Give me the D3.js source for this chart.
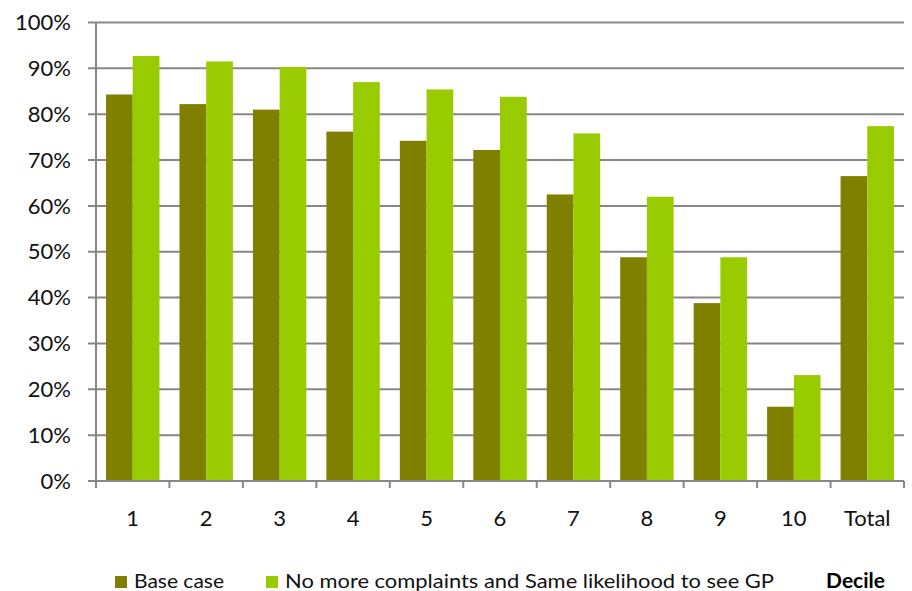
<!DOCTYPE html>
<html><head><meta charset="utf-8">
<script src="https://cdn.jsdelivr.net/npm/d3@7"></script>
<style>body{margin:0;background:#fff}svg{display:block}</style>
</head><body>
<svg id="c" width="912" height="591"></svg>
<script>
const categories = ["1","2","3","4","5","6","7","8","9","10","Total"];
const baseCase = [84.3, 82.2, 81.0, 76.2, 74.2, 72.2, 62.5, 48.8, 38.8, 16.2, 66.5];
const noComplaints = [92.7, 91.5, 90.3, 87.0, 85.4, 83.8, 75.8, 62.0, 48.8, 23.1, 77.4];
const seriesNames = ["Base case", "No more complaints and Same likelihood to see GP"];
const yTicks = [0,10,20,30,40,50,60,70,80,90,100];
const axisTitle = "Decile";

const colors = ["#808000", "#99cc00"];
const font = "Lato, 'Open Sans', sans-serif";
const svg = d3.select("#c");
const m = {l: 96, r: 904, t: 22.5, b: 481};
const x = d3.scaleBand().domain(categories).range([m.l, m.r]).paddingInner(0).paddingOuter(0);
const xs = d3.scaleBand().domain([0,1]).range([0, x.bandwidth()]).paddingInner(0).paddingOuter(0.375);
const y = d3.scaleLinear().domain([0,100]).range([m.b, m.t]);

// gridlines
svg.append("g").selectAll("line").data(yTicks).join("line")
  .attr("x1", m.l - 8).attr("x2", m.r)
  .attr("y1", d => y(d)).attr("y2", d => y(d))
  .attr("stroke", "#878787").attr("stroke-width", 2);

// bars
const series = [baseCase, noComplaints];
series.forEach((vals, si) => {
  svg.append("g").selectAll("rect").data(vals).join("rect")
    .attr("x", (d,i) => x(categories[i]) + xs(si))
    .attr("width", xs.bandwidth())
    .attr("y", d => y(d))
    .attr("height", d => y(0) - y(d))
    .attr("fill", colors[si]);
});

// y axis line
svg.append("line").attr("x1", m.l).attr("x2", m.l).attr("y1", y(100)).attr("y2", m.b + 7)
  .attr("stroke", "#878787").attr("stroke-width", 2);
// x axis
svg.append("line").attr("x1", m.l).attr("x2", m.r).attr("y1", y(0)).attr("y2", y(0))
  .attr("stroke", "#878787").attr("stroke-width", 2);
const bounds = categories.map(c => x(c)).concat([m.r]);
svg.append("g").selectAll("line").data(bounds).join("line")
  .attr("x1", d => d).attr("x2", d => d).attr("y1", y(0)).attr("y2", y(0) + 7)
  .attr("stroke", "#878787").attr("stroke-width", 2);

// y labels
svg.append("g").selectAll("text").data(yTicks).join("text")
  .attr("x", 71).attr("y", d => y(d)).attr("dy", "0.35em")
  .attr("text-anchor", "end").attr("font-family", font).attr("font-size", 22)
  .attr("fill", "#111").text(d => d + "%");

// x labels
svg.append("g").selectAll("text").data(categories).join("text")
  .attr("x", d => x(d) + x.bandwidth()/2).attr("y", 526)
  .attr("text-anchor", "middle").attr("font-family", font).attr("font-size", 22)
  .attr("fill", "#111").text(d => d);

// legend
const lg = svg.append("g");
const legX = [115, 266];
const legLen = [90, 489];
seriesNames.forEach((n, i) => {
  lg.append("rect").attr("x", legX[i]).attr("y", 576).attr("width", 12).attr("height", 12).attr("fill", colors[i]);
  lg.append("text").attr("x", legX[i] + 19).attr("y", 588)
    .attr("font-family", font).attr("font-size", 20).attr("fill", "#111")
    .attr("textLength", legLen[i]).attr("lengthAdjust", "spacingAndGlyphs").text(n);
});
svg.append("text").attr("x", 885).attr("y", 588).attr("text-anchor", "end")
  .attr("font-family", font).attr("font-size", 21).attr("font-weight", "bold")
  .attr("fill", "#000").text(axisTitle);
</script>
</body></html>
